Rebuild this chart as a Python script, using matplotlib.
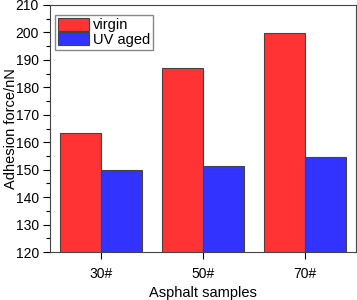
import matplotlib.pyplot as plt
import numpy as np
from matplotlib.ticker import MultipleLocator

plt.rcParams['font.family'] = ['Liberation Sans', 'DejaVu Sans']
plt.rcParams['font.size'] = 10

samples = ['30#', '50#', '70#']
virgin = [163.5, 187.2, 199.7]
uv_aged = [149.9, 151.5, 154.5]

fig = plt.figure(figsize=(3.57, 3.0), dpi=100)
ax = fig.add_axes([50/357, 48/300, 306/357, 247/300])

x = np.arange(1, len(samples) + 1)
w = 0.4
ax.bar(x - w/2, virgin, w, color='#ff3333', edgecolor='#444444', linewidth=0.8, label='virgin')
ax.bar(x + w/2, uv_aged, w, color='#3333ff', edgecolor='#444444', linewidth=0.8, label='UV aged')

ax.set_xlim(0.5, 3.5)
ax.set_ylim(120, 210)
ax.set_xticks(x)
ax.set_xticklabels(samples)
ax.yaxis.set_major_locator(MultipleLocator(10))
ax.yaxis.set_minor_locator(MultipleLocator(5))
ax.tick_params(direction='out', length=5, width=0.8, pad=3)
ax.tick_params(axis='x', pad=6)
ax.tick_params(which='minor', direction='out', length=3, width=0.8)
for s in ax.spines.values():
    s.set_color('#444444')

ax.set_xlabel('Asphalt samples', fontsize=10.5, va='center')
ax.xaxis.set_label_coords(0.5, -0.166)
ax.set_ylabel('Adhesion force/nN', fontsize=10.5, va='center')
ax.yaxis.set_label_coords(-0.127, 0.5)

ax.legend(loc='upper left', bbox_to_anchor=(5/306, 1 - 10/247), fancybox=False,
          edgecolor='#888888', fontsize=10.5, handlelength=2.1, handleheight=1.0,
          borderpad=0.2, labelspacing=0.0, handletextpad=0.3, borderaxespad=0,
          framealpha=1)

fig.savefig('out.png', dpi=100)
